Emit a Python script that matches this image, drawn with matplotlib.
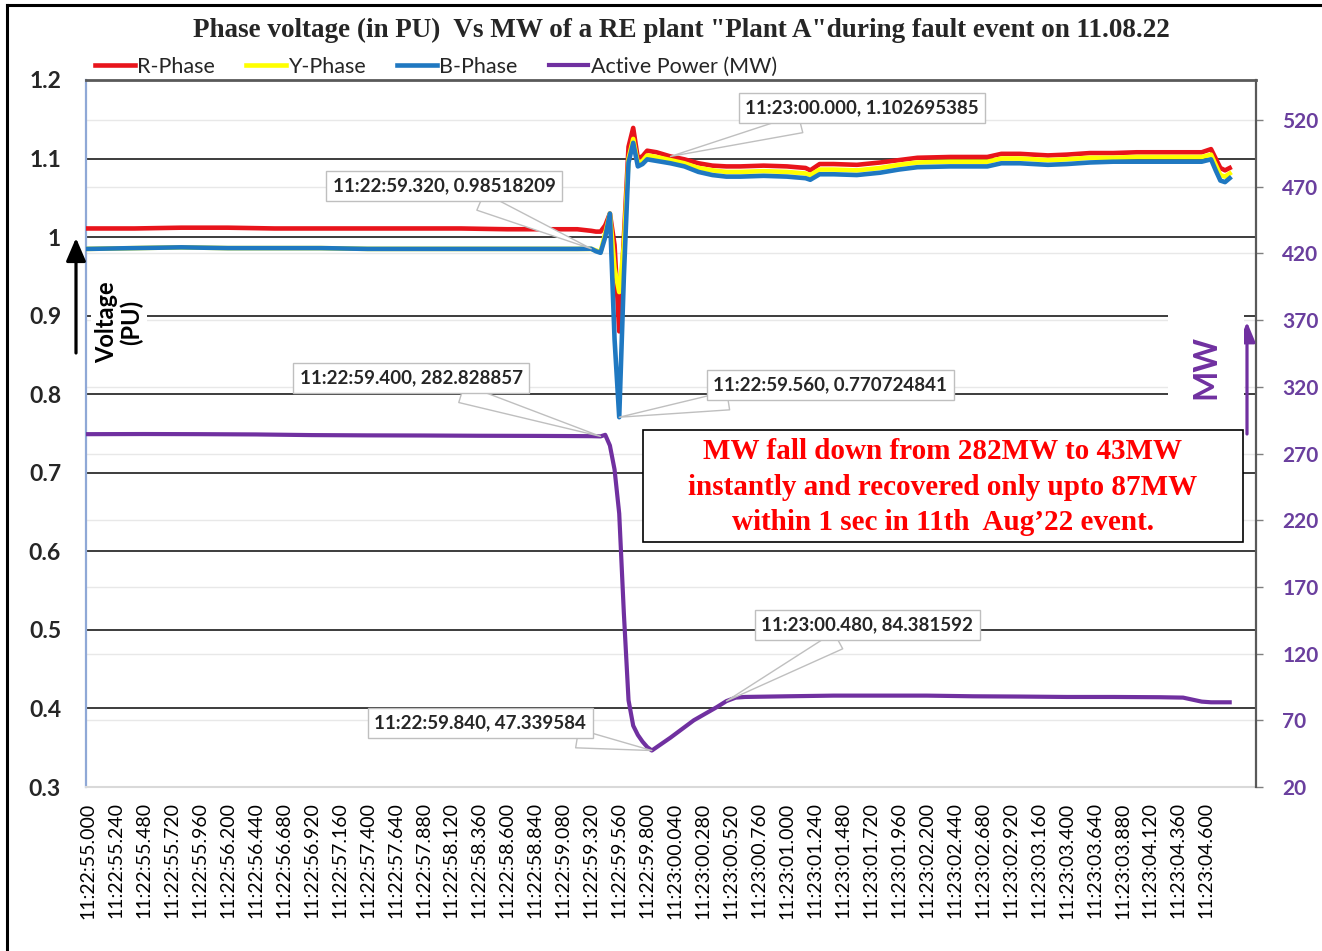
import matplotlib
matplotlib.use("Agg")
import matplotlib.pyplot as plt
import matplotlib.transforms as mtransforms
from matplotlib.patches import Rectangle

# ---------------------------------------------------------------------------
# Data: time in seconds after 11:22:55.000
# ---------------------------------------------------------------------------
volt_t = [0.00, 0.40, 0.80, 1.20, 1.60, 2.00, 2.40, 2.80, 3.20, 3.60, 4.00,
          4.20, 4.32, 4.36, 4.40, 4.44, 4.48, 4.52, 4.56, 4.60, 4.64, 4.68,
          4.72, 4.76, 4.80, 4.88, 5.00, 5.12, 5.24, 5.36, 5.48, 5.60, 5.80,
          6.00, 6.16, 6.20, 6.28, 6.40, 6.60, 6.80, 6.96, 7.12, 7.40, 7.72,
          7.84, 8.00, 8.24, 8.40, 8.60, 8.80, 9.00, 9.20, 9.40, 9.56, 9.64,
          9.68, 9.72, 9.76, 9.80]

r_phase = [1.011, 1.011, 1.012, 1.012, 1.011, 1.011, 1.011, 1.011, 1.011,
           1.010, 1.010, 1.010, 1.008, 1.007, 1.007, 1.015, 1.030, 0.990,
           0.880, 1.000, 1.115, 1.139, 1.100, 1.103, 1.110, 1.108,
           1.102695385, 1.099, 1.094, 1.091, 1.090, 1.090, 1.091, 1.090,
           1.088, 1.085, 1.093, 1.093, 1.092, 1.095, 1.098, 1.101, 1.102,
           1.102, 1.106, 1.106, 1.104, 1.105, 1.107, 1.107, 1.108, 1.108,
           1.108, 1.108, 1.112, 1.100, 1.088, 1.085, 1.088]

y_phase = [0.985, 0.986, 0.987, 0.986, 0.986, 0.986, 0.985, 0.985, 0.985,
           0.985, 0.985, 0.985, 0.985, 0.983, 0.981, 1.005, 1.030, 0.960,
           0.930, 0.990, 1.100, 1.125, 1.094, 1.097, 1.104, 1.102, 1.098,
           1.094, 1.088, 1.085, 1.083, 1.083, 1.084, 1.083, 1.081, 1.079,
           1.086, 1.086, 1.085, 1.088, 1.092, 1.095, 1.096, 1.096, 1.100,
           1.100, 1.098, 1.099, 1.101, 1.101, 1.102, 1.102, 1.102, 1.102,
           1.105, 1.092, 1.079, 1.077, 1.081]

b_phase = [0.985, 0.986, 0.987, 0.986, 0.986, 0.986, 0.985, 0.985, 0.985,
           0.985, 0.985, 0.985, 0.98518209, 0.982, 0.980, 1.000, 1.030,
           0.870, 0.770724841, 0.950, 1.095, 1.120, 1.090, 1.093, 1.099,
           1.097, 1.094, 1.090, 1.083, 1.079, 1.077, 1.077, 1.078, 1.077,
           1.075, 1.073, 1.080, 1.080, 1.079, 1.082, 1.086, 1.089, 1.090,
           1.090, 1.094, 1.094, 1.092, 1.093, 1.095, 1.096, 1.096, 1.096,
           1.096, 1.096, 1.099, 1.085, 1.072, 1.070, 1.075]

mw_t = [0.00, 0.48, 0.96, 1.44, 1.92, 2.40, 2.88, 3.36, 3.84, 4.32, 4.40,
        4.44, 4.48, 4.52, 4.56, 4.60, 4.64, 4.68, 4.72, 4.76, 4.80, 4.84,
        5.00, 5.20, 5.40, 5.48, 5.56, 5.64, 6.00, 6.40, 6.80, 7.20, 7.60,
        8.00, 8.40, 8.80, 9.20, 9.40, 9.48, 9.56, 9.64, 9.72, 9.80]

active_power = [284.5, 284.6, 284.5, 284.3, 283.8, 283.6, 283.5, 283.3,
                283.2, 283.0, 282.828857, 284.0, 276.0, 258.0, 225.0, 150.0,
                85.0, 66.0, 59.0, 54.0, 50.0, 47.339584, 57.0, 70.0, 80.0,
                84.381592, 87.0, 87.5, 88.0, 88.5, 88.5, 88.5, 88.0, 87.8,
                87.5, 87.5, 87.3, 87.0, 85.5, 84.0, 83.5, 83.5, 83.5]

tick_t = [0.00, 0.24, 0.48, 0.72, 0.96, 1.20, 1.44, 1.68, 1.92, 2.16, 2.40,
          2.64, 2.88, 3.12, 3.36, 3.60, 3.84, 4.08, 4.32, 4.56, 4.80, 5.04,
          5.28, 5.52, 5.76, 6.00, 6.24, 6.48, 6.72, 6.96, 7.20, 7.44, 7.68,
          7.92, 8.16, 8.40, 8.64, 8.88, 9.12, 9.36, 9.60]

tick_labels = [
    "11:22:55.000", "11:22:55.240", "11:22:55.480", "11:22:55.720",
    "11:22:55.960", "11:22:56.200", "11:22:56.440", "11:22:56.680",
    "11:22:56.920", "11:22:57.160", "11:22:57.400", "11:22:57.640",
    "11:22:57.880", "11:22:58.120", "11:22:58.360", "11:22:58.600",
    "11:22:58.840", "11:22:59.080", "11:22:59.320", "11:22:59.560",
    "11:22:59.800", "11:23:00.040", "11:23:00.280", "11:23:00.520",
    "11:23:00.760", "11:23:01.000", "11:23:01.240", "11:23:01.480",
    "11:23:01.720", "11:23:01.960", "11:23:02.200", "11:23:02.440",
    "11:23:02.680", "11:23:02.920", "11:23:03.160", "11:23:03.400",
    "11:23:03.640", "11:23:03.880", "11:23:04.120", "11:23:04.360",
    "11:23:04.600"]

volt_ticks = [0.3, 0.4, 0.5, 0.6, 0.7, 0.8, 0.9, 1.0, 1.1, 1.2]
volt_tick_labels = ["0.3", "0.4", "0.5", "0.6", "0.7", "0.8", "0.9", "1",
                    "1.1", "1.2"]
mw_ticks = [20, 70, 120, 170, 220, 270, 320, 370, 420, 470, 520]

# Labelled points: (time label, seconds, value, axis)
callouts = [
    ("11:23:00.000", 5.00, 1.102695385, "v"),
    ("11:22:59.320", 4.32, 0.98518209, "v"),
    ("11:22:59.400", 4.40, 282.828857, "p"),
    ("11:22:59.560", 4.56, 0.770724841, "v"),
    ("11:23:00.480", 5.48, 84.381592, "p"),
    ("11:22:59.840", 4.84, 47.339584, "p"),
]
# Callout box centres in figure pixels (from top-left)
callout_pos = [(862, 108), (444, 186), (411, 378), (830, 385), (867, 625),
               (480, 723)]

title = ('Phase voltage (in PU)  Vs MW of a RE plant "Plant A"'
         'during fault event on 11.08.22')
note = ("MW fall down from 282MW to 43MW\n"
        "instantly and recovered only upto 87MW\n"
        "within 1 sec in 11th  Aug\u201922 event.")

# ---------------------------------------------------------------------------
W, H = 1322, 951
plt.rcParams["font.family"] = ["Lato", "DejaVu Sans"]


def fx(x):
    return x / W


def fy(y):
    return 1 - y / H


fig = plt.figure(figsize=(W / 100, H / 100), dpi=100)
fig.patch.set_facecolor("white")

ax = fig.add_axes([fx(86), fy(787), (1256 - 86) / W, (787 - 80) / H])
ax2 = ax.twinx()
ax.set_zorder(1)
ax2.set_zorder(2)
ax2.patch.set_visible(False)

RED, YEL, BLU, PUR = "#E8141B", "#FFFF00", "#1F78C1", "#7030A0"

ax.plot(volt_t, r_phase, color=RED, lw=3.3, label="R-Phase", zorder=3,
        solid_joinstyle="round")
ax.plot(volt_t, y_phase, color=YEL, lw=3.3, label="Y-Phase", zorder=4,
        solid_joinstyle="round")
ax.plot(volt_t, b_phase, color=BLU, lw=3.3, label="B-Phase", zorder=5,
        solid_joinstyle="round")
ax2.plot(mw_t, active_power, color=PUR, lw=3.0, label="Active Power (MW)",
         solid_joinstyle="round")

ax.set_xlim(-0.017, 10.026)
ax.set_ylim(0.3, 1.2)
ax2.set_ylim(20, 550)

# left-axis grid (dark) and right-axis grid (faint)
ax.hlines([0.4, 0.5, 0.6, 0.7, 0.8, 0.9, 1.0, 1.1], 0, 1,
          transform=mtransforms.blended_transform_factory(ax.transAxes,
                                                          ax.transData),
          colors="#3C3C3C", lw=1.4, zorder=1)
ax.hlines(mw_ticks[1:], 0, 1,
          transform=mtransforms.blended_transform_factory(ax.transAxes,
                                                          ax2.transData),
          colors="#E8E8E8", lw=1.0, zorder=0.5)

ax.set_xticks(tick_t)
ax.set_xticklabels(tick_labels, rotation=90, fontsize=14, color="black")
ax.tick_params(axis="x", length=0, pad=11)

ax.set_yticks(volt_ticks)
ax.set_yticklabels(volt_tick_labels, fontsize=16.5, fontweight="bold",
                   color="#262626")
ax.tick_params(axis="y", length=0, pad=18)

ax2.set_yticks(mw_ticks)
ax2.set_yticklabels([str(v) for v in mw_ticks], fontsize=15,
                    fontweight="bold", color="#6A3F9E")
ax2.tick_params(axis="y", length=5, width=1, color="#7F7F7F", pad=14)

for a in (ax, ax2):
    for s in a.spines.values():
        s.set_visible(False)
ax.spines["left"].set_visible(True)
ax.spines["left"].set_color("#8FA8D6")
ax.spines["left"].set_linewidth(1.6)
ax.spines["top"].set_visible(True)
ax.spines["top"].set_color("#595959")
ax.spines["top"].set_linewidth(2)
ax.spines["bottom"].set_visible(True)
ax.spines["bottom"].set_color("#D9D9D9")
ax.spines["bottom"].set_linewidth(1.5)
ax2.spines["right"].set_visible(True)
ax2.spines["right"].set_color("#595959")
ax2.spines["right"].set_linewidth(1.6)

# legend
handles = ax.get_lines() + ax2.get_lines()
leg = fig.legend(handles, [h.get_label() for h in handles], loc="center left",
                 bbox_to_anchor=(fx(95), fy(67)), ncol=4, frameon=False,
                 fontsize=15.5, handlelength=1.85, handletextpad=0.1,
                 columnspacing=1.45, borderpad=0, borderaxespad=0)
for t in leg.get_texts():
    t.set_color("#262626")

# title
fig.text(fx(681), fy(30), title, ha="center", va="center",
         family="Liberation Serif", fontweight="bold", fontsize=19.5,
         color="#262626")

# axis captions
fig.text(fx(119), fy(322), "Voltage\n(PU)", rotation=90, ha="center",
         va="center", fontsize=17, fontweight="bold", color="black",
         multialignment="center", zorder=3, linespacing=1.05,
         bbox=dict(boxstyle="square,pad=0.2", fc="white", ec="none"))
fig.text(fx(1206), fy(367), "MW", rotation=90, ha="center", va="center",
         fontsize=23, fontweight="bold", color=PUR, zorder=3,
         bbox=dict(boxstyle="square,pad=0.75", fc="white", ec="none"))

ax2.annotate("", xy=(fx(76), fy(238)), xytext=(fx(76), fy(353)),
             xycoords="figure fraction", textcoords="figure fraction",
             arrowprops=dict(arrowstyle="-|>,head_length=0.7,head_width=0.3",
                             lw=2.3, color="black", mutation_scale=20,
                             shrinkA=0, shrinkB=0), annotation_clip=False)
ax2.annotate("", xy=(fx(1247), fy(322)), xytext=(fx(1247), fy(434)),
             xycoords="figure fraction", textcoords="figure fraction",
             arrowprops=dict(arrowstyle="-|>,head_length=0.6,head_width=0.25",
                             lw=2.3, color=PUR, mutation_scale=20,
                             shrinkA=0, shrinkB=0), annotation_clip=False)

# note box
fig.add_artist(Rectangle((fx(643), fy(542)), (1243 - 643) / W,
                         (542 - 430) / H, transform=fig.transFigure,
                         fc="white", ec="black", lw=1.2, zorder=2))
fig.text(fx(943), fy(487), note, ha="center", va="center",
         family="Liberation Serif", fontweight="bold", fontsize=21,
         color="#FF0000", linespacing=1.42, zorder=3)

# data callouts
for (tlab, tx, val, which), (px, py) in zip(callouts, callout_pos):
    src = ax.transData if which == "v" else ax2.transData
    ax2.annotate(f"{tlab}, {val}", xy=(tx, val), xycoords=src,
                 xytext=(fx(px), fy(py)), textcoords="figure fraction",
                 ha="center", va="center", fontsize=13.5, fontweight="bold",
                 color="#262626", annotation_clip=False,
                 bbox=dict(boxstyle="square,pad=0.35", fc="white",
                           ec="#BFBFBF", lw=1),
                 arrowprops=dict(arrowstyle="wedge,tail_width=1.0",
                                 fc="white", ec="#BFBFBF", lw=1,
                                 shrinkA=0, shrinkB=0))

# outer frame lines
fig.add_artist(plt.Line2D([fx(7), fx(7)], [0, fy(5)], color="black", lw=2.2,
                          transform=fig.transFigure))
fig.add_artist(plt.Line2D([fx(7), 1], [fy(5), fy(5)], color="black", lw=2.2,
                          transform=fig.transFigure))

fig.savefig("out.png", dpi=100)
